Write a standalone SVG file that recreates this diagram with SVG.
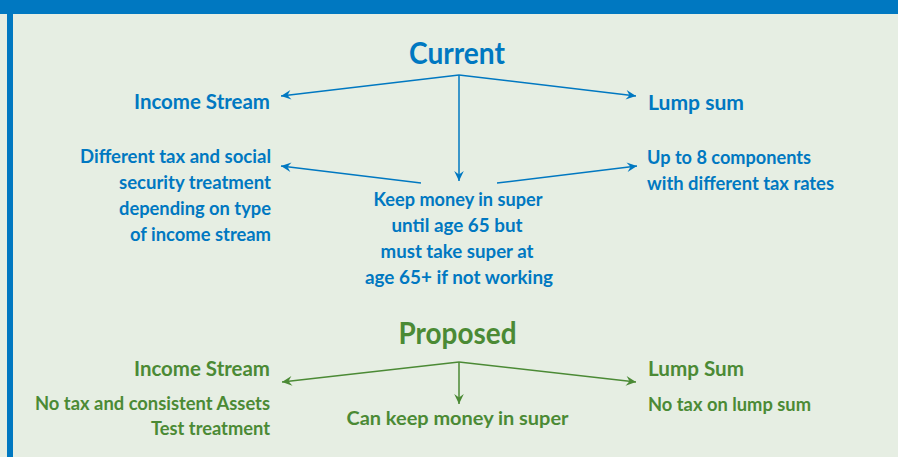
<svg xmlns="http://www.w3.org/2000/svg" width="898" height="457" viewBox="0 0 898 457">
  <style>
    text { font-family: Lato, "Liberation Sans", sans-serif; font-weight: bold; }
    .blue { fill: #0078c1; }
    .green { fill: #4b8a35; }
    .head { font-size: 31px; text-anchor: middle; }
    .title { font-size: 21.5px; }
    .body { font-size: 19px; }
    .end { text-anchor: end; }
    .mid { text-anchor: middle; }
    .lnb { stroke: #0078c1; stroke-width: 1.5; fill: none; marker-end: url(#arrB); }
    .lng { stroke: #4b8a35; stroke-width: 1.5; fill: none; marker-end: url(#arrG); }
  </style>
  <defs>
    <marker id="arrB" viewBox="-11 -6 12 12" refX="0" refY="0" markerWidth="12" markerHeight="12" markerUnits="userSpaceOnUse" orient="auto">
      <path d="M0,0 L-10,-4.8 L-6.5,0 L-10,4.8 Z" fill="#0078c1"/>
    </marker>
    <marker id="arrG" viewBox="-11 -6 12 12" refX="0" refY="0" markerWidth="12" markerHeight="12" markerUnits="userSpaceOnUse" orient="auto">
      <path d="M0,0 L-10,-4.8 L-6.5,0 L-10,4.8 Z" fill="#4b8a35"/>
    </marker>
  </defs>

  <!-- panel background and frame -->
  <rect x="0" y="0" width="898" height="457" fill="#e6eee3"/>
  <rect x="0" y="0" width="898" height="14" fill="#0078c1"/>
  <rect x="7" y="14" width="6" height="443" fill="#0078c1"/>

  <!-- connectors -->
  <g id="connectors">
    <path class="lnb" d="M459,75 L281,96"/>
    <path class="lnb" d="M459,75 L636,96"/>
    <path class="lnb" d="M459,75 L459,181"/>
    <path class="lnb" d="M421,183 L281,166"/>
    <path class="lnb" d="M497,183 L637,166"/>
    <path class="lng" d="M459,362 L282,382"/>
    <path class="lng" d="M459,362 L636,382"/>
    <path class="lng" d="M459,362 L459,404"/>
  </g>

  <!-- current arrangement -->
  <g id="current">
    <text class="blue head" x="457" y="64" textLength="96" lengthAdjust="spacingAndGlyphs">Current</text>
  </g>
  <g id="current-income">
    <text class="blue title end" x="270" y="109" textLength="136" lengthAdjust="spacingAndGlyphs">Income Stream</text>
  </g>
  <g id="current-lump">
    <text class="blue title" x="648" y="110" textLength="96" lengthAdjust="spacingAndGlyphs">Lump sum</text>
  </g>
  <g id="current-income-detail">
    <text class="blue body end" x="271" y="163" textLength="191" lengthAdjust="spacingAndGlyphs">Different tax and social</text>
    <text class="blue body end" x="271" y="189" textLength="152" lengthAdjust="spacingAndGlyphs">security treatment</text>
    <text class="blue body end" x="271" y="215" textLength="152" lengthAdjust="spacingAndGlyphs">depending on type</text>
    <text class="blue body end" x="271" y="241" textLength="141" lengthAdjust="spacingAndGlyphs">of income stream</text>
  </g>
  <g id="current-keep">
    <text class="blue body mid" x="458" y="206" textLength="169" lengthAdjust="spacingAndGlyphs">Keep money in super</text>
    <text class="blue body mid" x="457" y="232" textLength="131" lengthAdjust="spacingAndGlyphs">until age 65 but</text>
    <text class="blue body mid" x="457" y="258" textLength="153" lengthAdjust="spacingAndGlyphs">must take super at</text>
    <text class="blue body mid" x="459" y="284" textLength="188" lengthAdjust="spacingAndGlyphs">age 65+ if not working</text>
  </g>
  <g id="current-lump-detail">
    <text class="blue body" x="647" y="164" textLength="164" lengthAdjust="spacingAndGlyphs">Up to 8 components</text>
    <text class="blue body" x="647" y="190" textLength="187" lengthAdjust="spacingAndGlyphs">with different tax rates</text>
  </g>

  <!-- proposed arrangement -->
  <g id="proposed">
    <text class="green head" x="457.5" y="344" textLength="118" lengthAdjust="spacingAndGlyphs">Proposed</text>
  </g>
  <g id="proposed-income">
    <text class="green title end" x="270" y="376" textLength="136" lengthAdjust="spacingAndGlyphs">Income Stream</text>
    <text class="green body end" x="270" y="410" textLength="235" lengthAdjust="spacingAndGlyphs">No tax and consistent Assets</text>
    <text class="green body end" x="270" y="435" textLength="119" lengthAdjust="spacingAndGlyphs">Test treatment</text>
  </g>
  <g id="proposed-keep">
    <text class="green body mid" x="457.5" y="425" textLength="222" lengthAdjust="spacingAndGlyphs">Can keep money in super</text>
  </g>
  <g id="proposed-lump">
    <text class="green title" x="648" y="376" textLength="96" lengthAdjust="spacingAndGlyphs">Lump Sum</text>
    <text class="green body" x="648" y="411" textLength="163" lengthAdjust="spacingAndGlyphs">No tax on lump sum</text>
  </g>
</svg>
